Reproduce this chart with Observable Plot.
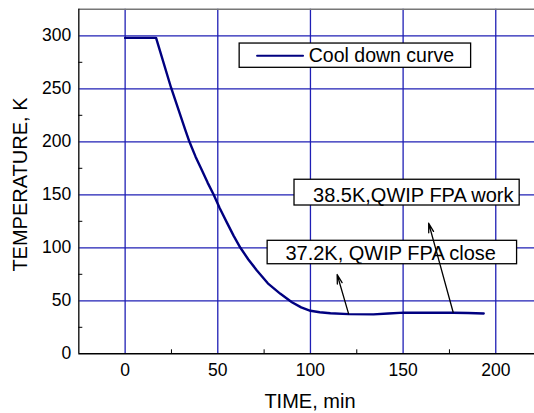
<!DOCTYPE html>
<html>
<head>
<meta charset="utf-8">
<script src="https://cdn.jsdelivr.net/npm/d3@7"></script>
<script src="https://cdn.jsdelivr.net/npm/@observablehq/plot@0.6"></script>
<style>
  html, body { margin: 0; padding: 0; background: #fff; }
  #chart svg { display: block; font-family: "Liberation Sans", Arial, sans-serif; }
</style>
</head>
<body>
<div id="chart"></div>
<script>
// ---- data ----
const time = [0, 5, 10, 16.7, 24.8, 32.5, 34.7, 38, 41.5, 44.5, 47.8, 51, 55, 58.5, 62.2, 66.5, 71.1, 77, 83.8, 90, 95, 100, 105, 110.8, 120.7, 134, 142, 150.4, 165, 177, 185, 193.5];
const temp = [298, 298, 298, 298, 251, 211, 200, 186, 173, 161.5, 150, 137.5, 123.5, 111.5, 100, 89, 78.6, 66.5, 56.6, 48.7, 43.8, 40.6, 39.2, 38.3, 37.4, 37.2, 38, 38.8, 38.7, 38.7, 38.5, 38];

const xTicks = [0, 50, 100, 150, 200];
const xMinor = [25, 75, 125, 175];
const yTicks = [0, 50, 100, 150, 200, 250, 300];
const yMinor = [25, 75, 125, 175, 225, 275];
const xDomain = [-25, 220.9];
const yDomain = [0, 325];

const xTitle = "TIME, min";
const yTitle = "TEMPERATURE, K";

// legend
const legendLabel = ["Cool down curve"];
const legendBoxX1 = [61.8], legendBoxX2 = [186.7], legendBoxY1 = [269.8], legendBoxY2 = [292.7];
const legendSwatchX = [71.2, 96], legendSwatchY = [281.1, 281.1];
const legendTextX = [99.1], legendTextY = [280.8];

// annotations
const noteText = ["38.5K,QWIP FPA work", "37.2K, QWIP FPA close"];
const noteBoxX1 = [91.4, 76.9], noteBoxX2 = [212.9, 211.5];
const noteBoxY1 = [139.9, 84.5], noteBoxY2 = [164.2, 106.6];
const noteTextX = [101.4, 86.5], noteTextY = [149.7, 94.3];
const arrowFromX = [120.6, 177.0], arrowFromY = [37.7, 39.2];
const arrowToX = [114.4, 163.8], arrowToY = [74.8, 123.2];

// ---- build tables ----
const curve = time.map((t, i) => ({t, T: temp[i]}));
const legendBox = legendLabel.map((l, i) => ({x1: legendBoxX1[i], x2: legendBoxX2[i], y1: legendBoxY1[i], y2: legendBoxY2[i]}));
const legendSwatch = legendSwatchX.map((x, i) => ({x, y: legendSwatchY[i]}));
const legendTxt = legendLabel.map((l, i) => ({x: legendTextX[i], y: legendTextY[i], l}));
const notes = noteText.map((s, i) => ({
  s, x1: noteBoxX1[i], x2: noteBoxX2[i], y1: noteBoxY1[i], y2: noteBoxY2[i],
  tx: noteTextX[i], ty: noteTextY[i]
}));
const arrows = arrowFromX.map((x, i) => ({x1: x, y1: arrowFromY[i], x2: arrowToX[i], y2: arrowToY[i]}));

const gridColor = "#1f1fb5";
const font = "Liberation Sans, Arial, sans-serif";

const chart = Plot.plot({
  width: 534,
  height: 413,
  marginLeft: 78.3,
  marginRight: 0,
  marginTop: 8.8,
  marginBottom: 59.7,
  style: {fontFamily: font, background: "#fff", color: "#000"},
  x: {domain: xDomain, axis: null},
  y: {domain: yDomain, axis: null},
  marks: [
    Plot.gridX(xTicks, {stroke: gridColor, strokeOpacity: 1, strokeWidth: 1.3}),
    Plot.gridY(yTicks.filter(d => d > 0), {stroke: gridColor, strokeOpacity: 1, strokeWidth: 1.3}),
    Plot.ruleY([yDomain[1]], {stroke: "#777", strokeWidth: 1.5}),
    Plot.ruleX([xDomain[0]], {stroke: "#222", strokeWidth: 1.5}),
    Plot.ruleY([yDomain[0]], {stroke: "#000", strokeWidth: 1.5}),
    Plot.axisX(xMinor, {tickSize: -4, text: null, label: null, strokeWidth: 1}),
    Plot.axisY(yMinor, {tickSize: -4, text: null, label: null, strokeWidth: 1}),
    Plot.axisX(xTicks, {tickSize: 0, tickPadding: 9.7, fontSize: 17.5, label: null, fill: "#000"}),
    Plot.axisY(yTicks, {tickSize: 0, tickPadding: 7.6, fontSize: 17.5, label: null, fill: "#000"}),
    Plot.text([xTitle], {frameAnchor: "bottom", lineAnchor: "top", textAnchor: "middle", dx: 3.3, dy: 40, fontSize: 20, fill: "#000"}),
    Plot.text([yTitle], {frameAnchor: "left", rotate: -90, textAnchor: "middle", dx: -58.3, dy: 3, fontSize: 20, fill: "#000"}),
    Plot.line(curve, {x: "t", y: "T", stroke: "#000080", strokeWidth: 2.4, curve: "linear", strokeLinejoin: "round"}),
    // legend
    Plot.rect(legendBox, {x1: "x1", x2: "x2", y1: "y1", y2: "y2", fill: "#fff", stroke: "#000", strokeWidth: 1.3}),
    Plot.line(legendSwatch, {x: "x", y: "y", stroke: "#000080", strokeWidth: 2}),
    Plot.text(legendTxt, {x: "x", y: "y", text: "l", textAnchor: "start", fontSize: 19.5, fill: "#000"}),
    // annotations
    Plot.rect(notes, {x1: "x1", x2: "x2", y1: "y1", y2: "y2", fill: "#fff", stroke: "#000", strokeWidth: 1.3}),
    Plot.text(notes, {x: "tx", y: "ty", text: "s", textAnchor: "start", fontSize: 20, fill: "#000"}),
    Plot.arrow(arrows, {x1: "x1", y1: "y1", x2: "x2", y2: "y2", stroke: "#000", strokeWidth: 1.3, headLength: 11, headAngle: 30})
  ]
});
document.getElementById("chart").appendChild(chart);
</script>
</body>
</html>
